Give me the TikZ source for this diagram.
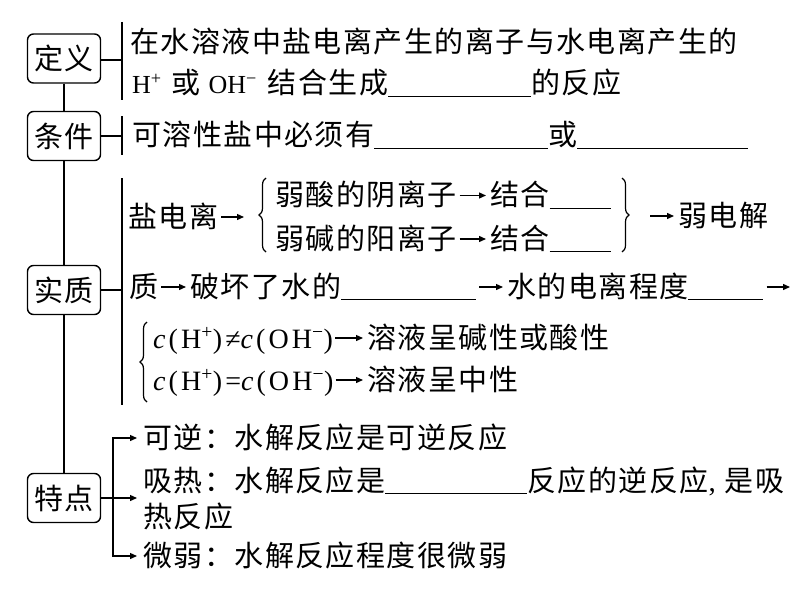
\documentclass[tikz,border=0pt]{standalone}
\usepackage{fontspec}
\setmainfont{Noto Sans CJK SC}[LetterSpace=5]
\newfontfamily\lat{Liberation Serif}
\newfontfamily\latw{Liberation Serif}[LetterSpace=11]
\usetikzlibrary{arrows.meta,decorations.pathreplacing}
\newcommand\blank[1]{\rule[-3pt]{#1pt}{0.9pt}}
\newcommand\latin[1]{{\fontsize{26}{30}\selectfont\lat #1}}
\newcommand\latinw[1]{{\fontsize{28}{30}\selectfont\latw #1}}
\begin{document}
\begin{tikzpicture}[x=1pt,y=-1pt,
  box/.style={draw, line width=1.4pt, rounded corners=6pt, minimum width=73pt, minimum height=49pt, inner sep=0pt, font=\fontsize{29}{32}\selectfont},
  txt/.style={anchor=base west, inner sep=0pt, font=\fontsize{29}{35}\selectfont},
  ln/.style={line width=1.4pt},
  arr/.style={line width=1.3pt, -{Triangle[length=7pt,width=6pt]}},
  brc/.style={line width=1.2pt, decorate, decoration={brace, amplitude=7pt}}]
\useasboundingbox (0,0) rectangle (805,594);
% category boxes
\node[box] (dy) at (64,58.5) {定义};
\node[box] (tj) at (64,136) {条件};
\node[box] (sz) at (64,290) {实质};
\node[box] (td) at (64,498) {特点};
\draw[ln] (dy) -- (tj) (tj) -- (sz) (sz) -- (td);
% brackets
\coordinate (b1t) at (122,22);  \coordinate (b1b) at (122,100);
\coordinate (b2t) at (122,116); \coordinate (b2b) at (122,155);
\coordinate (b3t) at (122,178); \coordinate (b3b) at (122,405);
\draw[ln] (b1t) -- (b1b) (b2t) -- (b2b) (b3t) -- (b3b);
\draw[ln] ([yshift=-1.5pt]dy.east) -- ([yshift=-1.5pt]dy.east -| b1t);
\draw[ln] (tj.east) -- (tj.east -| b2t);
\draw[ln] (sz.east) -- (sz.east -| b3t);
% definition
\node[txt] (t1) at (130,52.5) {在水溶液中盐电离产生的离子与水电离产生的};
\node[txt] (t2) at (132,93.5) {\latin{H\textsuperscript{+}}\hspace{2pt} 或 \latin{OH\textsuperscript{−}}\hspace{3pt} 结合生成\blank{143}的反应};
% condition
\node[txt] (t3) at (132,145.5) {可溶性盐中必须有\blank{174}或\blank{171}};
% essence
\node[txt] (y1) at (128,227) {盐电离};
\coordinate (a1e) at (244,217);
\draw[arr] ([xshift=3pt,yshift=10pt]y1.base east) -- (a1e);
\draw[brc] (266,252) -- (266,178);
\node[txt] (ra1) at (275,205.5) {弱酸的阴离子};
\node[txt] (rb1) at (490,205.5) {结合\blank{61}};
\node[txt] (ra2) at (275,249) {弱碱的阳离子};
\node[txt] (rb2) at (490,249) {结合\blank{61}};
\draw[arr] ([xshift=3pt,yshift=10pt]ra1.base east) -- ([xshift=-4pt,yshift=10pt]rb1.base west);
\draw[arr] ([xshift=3pt,yshift=10pt]ra2.base east) -- ([xshift=-4pt,yshift=10pt]rb2.base west);
\draw[brc] (622,178) -- (622,252);
\node[txt] (wd) at (678,226) {弱电解};
\coordinate (a4s) at (650,216);
\draw[arr] (a4s) -- ([xshift=-4pt,yshift=10pt]wd.base west);
\node[txt] (z1) at (129,297) {质};
\node[txt] (z2) at (190,297) {破坏了水的\blank{135}};
\node[txt] (z3) at (507,297) {水的电离程度\blank{75}};
\coordinate (z4) at (790,287);
\draw[arr] ([xshift=3pt,yshift=10pt]z1.base east) -- ([xshift=-4pt,yshift=10pt]z2.base west);
\draw[arr] ([xshift=3pt,yshift=10pt]z2.base east) -- ([xshift=-4pt,yshift=10pt]z3.base west);
\draw[arr] ([xshift=3pt,yshift=10pt]z3.base east) -- (z4);
\draw[brc] (147,402) -- (147,322);
\node[txt] (c1) at (153,348) {\latinw{\textit{c}(H\textsuperscript{+})≠\textit{c}(OH\textsuperscript{−})}};
\node[txt] (s1) at (367,348) {溶液呈碱性或酸性};
\node[txt] (c2) at (153,390) {\latinw{\textit{c}(H\textsuperscript{+})=\textit{c}(OH\textsuperscript{−})}};
\node[txt] (s2) at (367,390) {溶液呈中性};
\draw[arr] ([xshift=2pt,yshift=10pt]c1.base east) -- ([xshift=-4pt,yshift=10pt]s1.base west);
\draw[arr] ([xshift=2pt,yshift=10pt]c2.base east) -- ([xshift=-4pt,yshift=10pt]s2.base west);
% features
\node[txt] (k1) at (143,448) {可逆：水解反应是可逆反应};
\node[txt] (k2) at (143,491) {吸热：水解反应是\blank{142}反应的逆反应{\lat,}\hspace{9pt}是吸};
\node[txt] (k3) at (143,527) {热反应};
\node[txt] (k4) at (143,566) {微弱：水解反应程度很微弱};
\coordinate (kj) at (113,498);
\draw[arr] (td.east) -- ([xshift=-6pt]td.east -| k2.base west);
\draw[arr] (kj) |- ([xshift=-6pt,yshift=10pt]k1.base west);
\draw[arr] (kj) |- ([xshift=-6pt,yshift=10pt]k4.base west);
\end{tikzpicture}
\end{document}
